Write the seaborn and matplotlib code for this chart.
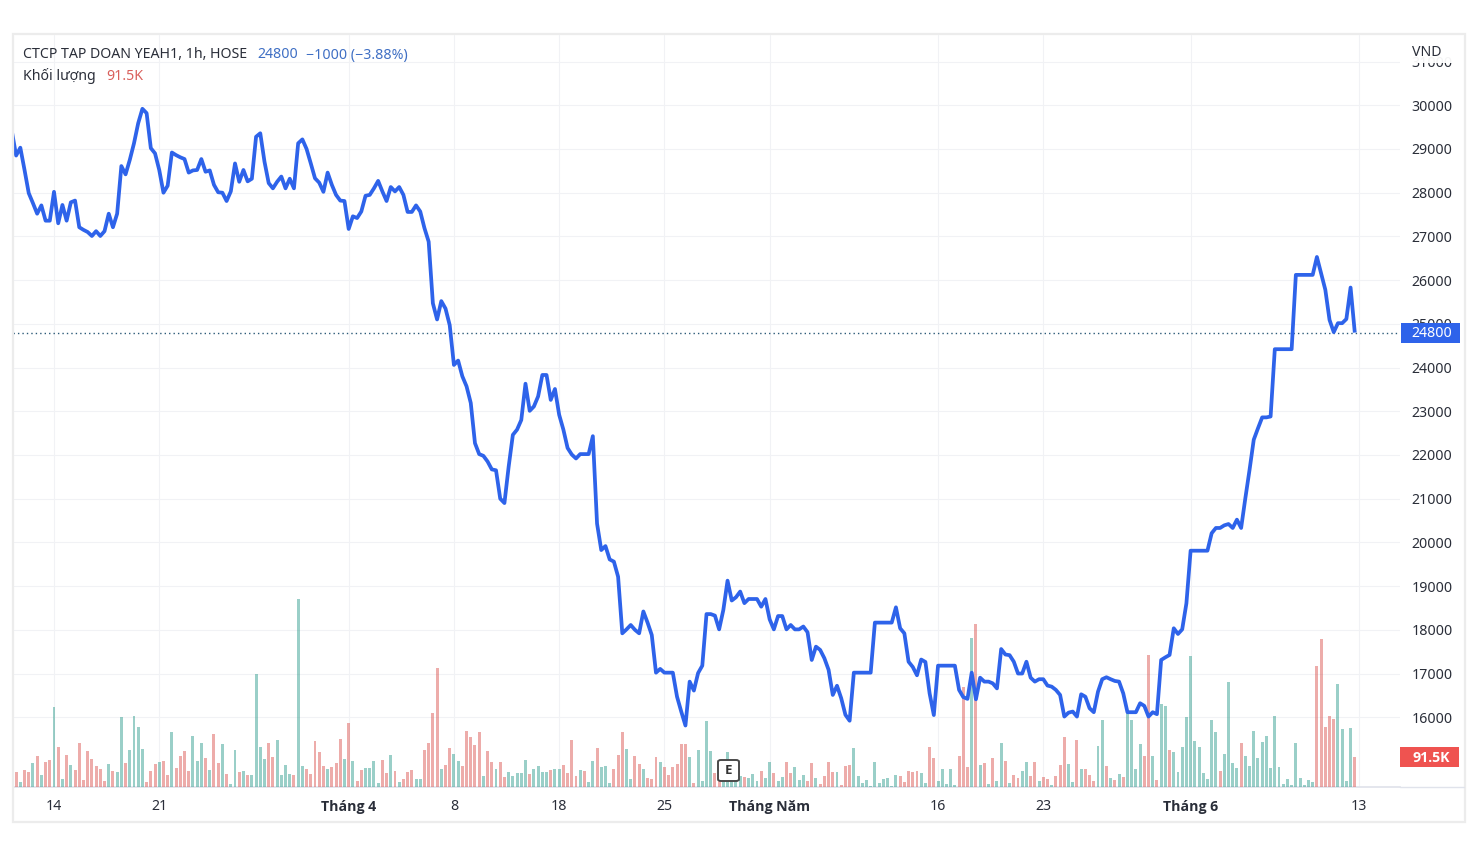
import numpy as np
import pandas as pd
import matplotlib.pyplot as plt
import seaborn as sns
from matplotlib.patches import Rectangle, FancyBboxPatch
from matplotlib.lines import Line2D

price = [
    29400, 28850, 29030, 28520, 27990, 27760, 27520, 27710, 27360, 27360,
    28020, 27300, 27720, 27360, 27780, 27820, 27210, 27150, 27100, 27010,
    27120, 27010, 27120, 27520, 27210, 27520, 28610, 28420, 28750, 29130,
    29590, 29920, 29820, 29020, 28900, 28520, 28000, 28160, 28920, 28860,
    28810, 28770, 28460, 28510, 28520, 28770, 28480, 28510, 28180, 28010,
    28000, 27810, 28030, 28670, 28250, 28520, 28260, 28320, 29280, 29360,
    28710, 28220, 28100, 28250, 28370, 28100, 28320, 28100, 29130, 29220,
    29000, 28670, 28330, 28230, 28020, 28460, 28180, 27950, 27820, 27810,
    27170, 27460, 27420, 27570, 27930, 27950, 28100, 28270, 28030, 27810,
    28130, 28030, 28130, 27950, 27560, 27560, 27710, 27570, 27190, 26880,
    25470, 25100, 25520, 25350, 24970, 24060, 24160, 23800, 23570, 23190,
    22270, 22020, 21980, 21850, 21670, 21650, 21000, 20900, 21730, 22460,
    22580, 22800, 23630, 23010, 23110, 23340, 23830, 23830, 23260, 23510,
    22920, 22580, 22160, 22010, 21920, 22020, 22020, 22020, 22430, 20430,
    19825, 19916, 19610, 19560, 19215, 17920, 18010, 18110, 18000, 17920,
    18420, 18165, 17880, 17020, 17105, 17020, 17020, 17020, 16470, 16130,
    15810, 16815, 16610, 17010, 17180, 18360, 18360, 18325, 18010, 18455,
    19125, 18670, 18745, 18875, 18610, 18705, 18705, 18705, 18530, 18705,
    18240, 18010, 18315, 18315, 18010, 18110, 18010, 18010, 18075, 17945,
    17310, 17615, 17540, 17350, 17085, 16510, 16720, 16435, 16055, 15920,
    17020, 17020, 17020, 17020, 17020, 18165, 18165, 18165, 18165, 18165,
    18515, 18035, 17920, 17270, 17150, 16960, 17320, 17265, 16545, 16050,
    17180, 17180, 17180, 17180, 17180, 16625, 16460, 16420, 17020, 16410,
    16905, 16815, 16815, 16775, 16660, 17560, 17435, 17420, 17270, 17000,
    17000, 17270, 16905, 16815, 16870, 16870, 16725, 16700, 16625, 16510,
    16015, 16105, 16130, 16015, 16525, 16470, 16205, 16115, 16585, 16870,
    16915, 16870, 16830, 16815, 16545, 16115, 16115, 16115, 16320, 16260,
    16015, 16115, 16070, 17310, 17370, 17425, 18035, 17905, 18010, 18605,
    19810, 19810, 19810, 19810, 19810, 20210, 20330, 20330, 20390, 20420,
    20330, 20520, 20330, 21010, 21660, 22350, 22610, 22860, 22860, 22880,
    24420, 24420, 24420, 24420, 24420, 26120, 26120, 26120, 26120, 26120,
    26530, 26160, 25780, 25090, 24810, 25015, 25015, 25110, 25830, 24800,
]

# thousands of shares per bar
volume = [
    95, 46, 16, 52, 46, 73, 94, 37, 76, 82,
    241, 121, 25, 97, 67, 52, 133, 22, 109, 85,
    64, 55, 19, 70, 49, 46, 211, 73, 112, 214,
    181, 115, 16, 49, 70, 76, 79, 37, 166, 58,
    94, 109, 49, 154, 79, 133, 88, 52, 160, 73,
    130, 40, 10, 112, 46, 49, 37, 37, 340, 121,
    85, 133, 91, 142, 37, 67, 40, 37, 565, 64,
    55, 40, 139, 106, 64, 55, 61, 73, 145, 85,
    193, 79, 19, 52, 58, 58, 79, 13, 82, 43,
    97, 49, 16, 25, 46, 52, 25, 25, 112, 133,
    223, 358, 55, 67, 118, 100, 79, 64, 169, 151,
    127, 166, 34, 109, 76, 55, 76, 31, 46, 34,
    43, 43, 82, 40, 55, 64, 46, 46, 52, 55,
    55, 67, 43, 142, 34, 52, 49, 16, 79, 118,
    61, 64, 13, 55, 97, 166, 115, 25, 94, 70,
    55, 28, 25, 91, 76, 61, 37, 61, 70, 130,
    130, 91, 13, 112, 19, 199, 109, 43, 32, 50,
    106, 35, 22, 32, 31, 28, 40, 19, 49, 28,
    76, 43, 19, 31, 76, 43, 61, 22, 37, 19,
    73, 28, 10, 34, 76, 46, 46, 7, 64, 67,
    118, 34, 13, 22, 4, 76, 13, 25, 28, 4,
    37, 34, 16, 49, 46, 49, 43, 13, 121, 88,
    19, 55, 10, 55, 7, 94, 301, 61, 448, 490,
    67, 73, 10, 88, 19, 133, 79, 13, 37, 28,
    49, 76, 34, 76, 19, 31, 25, 7, 34, 67,
    151, 70, 16, 142, 55, 55, 37, 19, 124, 202,
    64, 28, 22, 40, 31, 223, 202, 55, 130, 94,
    397, 94, 22, 250, 244, 112, 106, 46, 121, 211,
    394, 139, 121, 43, 25, 202, 166, 49, 100, 316,
    73, 58, 133, 94, 64, 169, 88, 136, 154, 58,
    214, 61, 10, 25, 7, 133, 28, 7, 22, 16,
    364, 445, 181, 214, 205, 310, 175, 19, 178, 91.5,
]

# g = up bar, p = down bar
side = list(
    "ppgppgpgpp" "gpgpgppppp" "pppgpggpgg" "ggpppgppgp" "pppgggpgpp"
    "gpggpgpggg" "gppggggpgg" "pppppgpppg" "pgppggggpp" "gpgpppggpp"
    "ppgppggppp" "ppgppgppgg" "gggpggggpg" "gppppgpggp" "gggpppggpp"
    "gpppgppppp" "pgpggggppg" "ggggpgggpg" "gpggppgggp" "pgppppgppp"
    "gggggggggg" "gpppppggpp" "gggggpppgp" "gpgpggpgpp" "ggppgppgpp"
    "pggpgpppgg" "pgpgpggggp" "pgpggpgggg" "gggggggpgg" "ggpggggggg"
    "gggggggggg" "pppppggggp"
)

x_ticks = [10, 35, 80, 105, 130, 155, 180, 220, 245, 280, 320]
x_labels = ['14', '21', 'Tháng 4', '8', '18', '25', 'Tháng Năm', '16', '23', 'Tháng 6', '13']
month_labels = ['Tháng 4', 'Tháng Năm', 'Tháng 6']
y_ticks = [16000, 17000, 18000, 19000, 20000, 21000, 22000, 23000, 24000, 25000,
           26000, 27000, 28000, 29000, 30000, 31000]

W, H = 1478, 866
BLUE = '#2e63ea'
TEXT = '#2a2e39'
BOLD_FONT = ['Open Sans', 'DejaVu Sans']

sns.set_theme(style='white')
plt.rcParams['font.family'] = ['Noto Sans', 'DejaVu Sans']
plt.rcParams['font.size'] = 10

df = pd.DataFrame({'bar': np.arange(len(price)), 'price': price,
                   'volume': volume, 'side': side})


def fx(px):
    return px / W


def fy(px):
    return 1 - px / H


fig = plt.figure(figsize=(W / 100, H / 100), dpi=100, facecolor='white')
pane = [fx(13), fy(787), fx(1400) - fx(13), fy(35) - fy(787)]

# three layers so the grid sits under the bars and the line over them
ax = fig.add_axes(pane)
ax_vol = ax.twinx()
ax_line = ax.twinx()

sns.barplot(data=df, x='bar', y='volume', hue='side', palette={'g': '#2a998a', 'p': '#d9504c'},
            native_scale=True, dodge=False, width=0.7, saturation=1, alpha=0.47,
            linewidth=0, errorbar=None, legend=False, ax=ax_vol)
sns.lineplot(data=df, x='bar', y='price', color=BLUE, linewidth=2.7, estimator=None,
             errorbar=None, ax=ax_line, solid_joinstyle='round', solid_capstyle='butt')
ax_line.axhline(24800, color='#2c5a78', lw=1, ls=(0, (1, 2.2)), zorder=1)

xlim = (0.26, 329.74)
ylim = (14404, 31608)
ax.set_xlim(xlim)
ax.set_ylim(ylim)
ax_line.set_xlim(xlim)
ax_line.set_ylim(ylim)
ax_vol.set_xlim(xlim)
ax_vol.set_ylim(0, 2256)

for a in (ax_vol, ax_line):
    a.set_yticks([])
    a.set_xlabel('')
    a.set_ylabel('')
    a.patch.set_visible(False)
    for s in a.spines.values():
        s.set_visible(False)

ax.set_xticks(x_ticks)
ax.set_xticklabels(x_labels)
ax.yaxis.tick_right()
ax.set_yticks(y_ticks)
ax.set_yticklabels([str(v) for v in y_ticks])
ax.tick_params(axis='y', length=0, pad=8.5, labelsize=10.2, labelcolor=TEXT)
ax.tick_params(axis='x', length=0, pad=9, labelsize=10.2, labelcolor=TEXT)
for lab in ax.get_xticklabels():
    if lab.get_text() in month_labels:
        lab.set_family(BOLD_FONT)
        lab.set_fontweight('bold')
ax.grid(True, color='#f1f2f5', lw=0.8)
ax.set_axisbelow(True)
for name, s in ax.spines.items():
    s.set_visible(name == 'bottom')
    s.set_color('#e0e3eb')

# frame and price scale furniture, in pixels of the figure
def box(x0, y0, x1, y1, z=5, **kw):
    r = Rectangle((fx(x0), fy(y1)), fx(x1) - fx(x0), fy(y0) - fy(y1),
                  transform=fig.transFigure, zorder=z, **kw)
    fig.add_artist(r)


box(12.5, 34, 1465, 822, z=4, fill=False, edgecolor='#ececec', lw=1.6)
fig.add_artist(Line2D([fx(1400), fx(1464)], [fy(787), fy(787)], color='#e0e3eb', lw=1, zorder=4))

# the header hides the top half of the 31000 label
box(1401, 36, 1463, 63, facecolor='white', edgecolor='none', alpha=0.95)
fig.text(fx(1412), fy(52), 'VND', color=TEXT, fontsize=10.2, va='center', zorder=6)

box(1401, 323, 1460, 343, facecolor=BLUE, edgecolor='none')
fig.text(fx(1432), fy(333.5), '24800', color='white', fontsize=10.2, ha='center', va='center', zorder=6)
box(1400, 747, 1459, 767, facecolor='#ef5350', edgecolor='none')
fig.text(fx(1431.5), fy(757.5), '91.5K', color='white', fontsize=10.2, fontweight='bold',
         family=BOLD_FONT, ha='center', va='center', zorder=6)

# earnings marker
fig.add_artist(FancyBboxPatch((fx(718), fy(781)), fx(21), fy(760) - fy(781),
                              boxstyle='round,pad=0,rounding_size=0.002',
                              transform=fig.transFigure, facecolor='white',
                              edgecolor='#4a4a4a', lw=1.4, zorder=5))
fig.text(fx(728.5), fy(770.5), 'E', color='#333333', fontsize=9.5, fontweight='bold',
         family=BOLD_FONT, ha='center', va='center', zorder=6)

# legend lines
fig.text(fx(23), fy(55), 'CTCP TAP DOAN YEAH1, 1h, HOSE', color=TEXT, fontsize=10.2, va='center', zorder=6)
fig.text(fx(257), fy(55), '24800', color='#3f6fc4', fontsize=10.2, va='center', zorder=6)
fig.text(fx(306), fy(55), '−1000 (−3.88%)', color='#3f6fc4', fontsize=10.2, va='center', zorder=6)
fig.text(fx(23), fy(76), 'Khối lượng', color=TEXT, fontsize=10.2, va='center', zorder=6)
fig.text(fx(106), fy(76), '91.5K', color='#d9605c', fontsize=10.2, va='center', zorder=6)

fig.savefig('out.png', dpi=100, facecolor='white')
